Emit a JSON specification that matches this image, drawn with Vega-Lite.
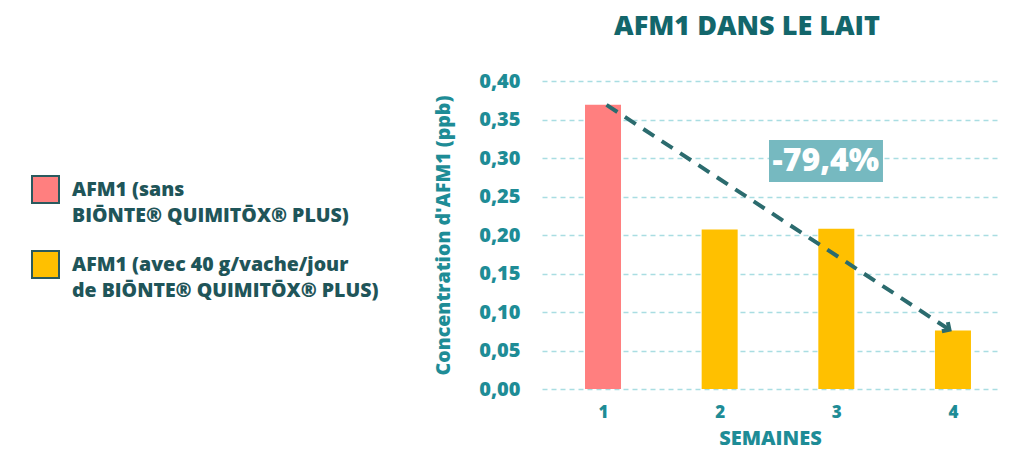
{
  "$schema": "https://vega.github.io/schema/vega-lite/v6.json",
  "width": 456,
  "height": 308,
  "autosize": "none",
  "padding": {"left": 542, "top": 81, "right": 26, "bottom": 80},
  "background": "white",
  "config": {"view": {"stroke": null}, "font": "Open Sans", "style": {"guide-label": {"lineHeight": 26}}},
  "title": {"text": "AFM1 DANS LE LAIT", "fontSize": 27, "fontWeight": 800, "color": "#13666b", "font": "Open Sans", "anchor": "middle", "dx": -23, "offset": 30},
  "datasets": {
    "bars": [
      {"semaine": 1, "valeur": 0.369, "serie": "AFM1 (sans|BIŌNTE® QUIMITŌX® PLUS)"},
      {"semaine": 2, "valeur": 0.207, "serie": "AFM1 (avec 40 g/vache/jour|de BIŌNTE® QUIMITŌX® PLUS)"},
      {"semaine": 3, "valeur": 0.208, "serie": "AFM1 (avec 40 g/vache/jour|de BIŌNTE® QUIMITŌX® PLUS)"},
      {"semaine": 4, "valeur": 0.076, "serie": "AFM1 (avec 40 g/vache/jour|de BIŌNTE® QUIMITŌX® PLUS)"}
    ],
    "fleche": [
      {"semaine": 1.03, "valeur": 0.369},
      {"semaine": 3.97, "valeur": 0.077}
    ],
    "pointe": [
      {"semaine": 3.97, "valeur": 0.077}
    ],
    "boite": [
      {"x1": 2.423, "x2": 3.40, "y1": 0.2688, "y2": 0.3234, "cx": 2.91, "cy": 0.296, "label": "-79,4%"}
    ]
  },
  "layer": [
    {
      "data": {"name": "bars"},
      "mark": {"type": "bar", "width": 36},
      "encoding": {
        "x": {"field": "semaine", "type": "quantitative",
          "scale": {"domain": [0.477, 4.386], "nice": false, "zero": false, "padding": 0},
          "axis": {"values": [1, 2, 3, 4], "format": "d", "grid": false, "ticks": false, "domain": false, "tickCount": 10,
            "title": "SEMAINES", "titleFont": "Open Sans", "titleFontSize": 20, "titleFontWeight": 800, "titleColor": "#1e8c96", "titlePadding": 8,
            "labelFont": "Open Sans", "labelFontSize": 17, "labelFontWeight": 800, "labelColor": "#1e8c96", "labelPadding": 15}},
        "y": {"field": "valeur", "type": "quantitative",
          "scale": {"domain": [0, 0.4], "nice": false},
          "axis": {"values": [0, 0.05, 0.1, 0.15, 0.2, 0.25, 0.3, 0.35, 0.4], "tickCount": 20,
            "labelExpr": "replace(format(datum.value, '.2f'), '.', ',')", "labelOverlap": false,
            "grid": true, "gridColor": "#a9dde2", "gridDash": [5, 4], "gridWidth": 1.5,
            "ticks": false, "domain": false,
            "labelFont": "Open Sans", "labelFontSize": 20, "labelFontWeight": 800, "labelColor": "#1e8c96", "labelPadding": 22,
            "title": "Concentration d'AFM1 (ppb)", "titleFont": "Open Sans", "titleFontSize": 19.5, "titleFontWeight": 800, "titleColor": "#1e8c96", "titlePadding": 25}},
        "color": {"field": "serie", "type": "nominal",
          "scale": {"domain": ["AFM1 (sans|BIŌNTE® QUIMITŌX® PLUS)", "AFM1 (avec 40 g/vache/jour|de BIŌNTE® QUIMITŌX® PLUS)"], "range": ["#ff7f7f", "#ffc000"]},
          "legend": {"orient": "none", "legendX": -511, "legendY": 94, "title": null,
            "symbolType": "square", "symbolSize": 729, "symbolStrokeColor": "#2a5a5e", "symbolStrokeWidth": 2, "symbolOpacity": 1,
            "labelExpr": "split(datum.label, '|')", "labelFont": "Open Sans", "labelFontSize": 19.5, "labelFontWeight": 800, "labelColor": "#1f5559",
            "labelOffset": 12, "labelLimit": 400, "rowPadding": 22, "labelBaseline": "middle"}}
      }
    },
    {
      "data": {"name": "fleche"},
      "mark": {"type": "line", "color": "#2b6b6e", "strokeWidth": 4, "strokeDash": [13, 9]},
      "encoding": {
        "x": {"field": "semaine", "type": "quantitative"},
        "y": {"field": "valeur", "type": "quantitative"}
      }
    },
    {
      "data": {"name": "pointe"},
      "mark": {"type": "point", "shape": "M -1 -1 L 0 0 L -1 1", "filled": false, "color": "#2b6b6e", "strokeWidth": 4, "size": 120, "angle": 33, "opacity": 1},
      "encoding": {
        "x": {"field": "semaine", "type": "quantitative"},
        "y": {"field": "valeur", "type": "quantitative"}
      }
    },
    {
      "data": {"name": "boite"},
      "mark": {"type": "rect", "color": "#76b9c0"},
      "encoding": {
        "x": {"field": "x1", "type": "quantitative"},
        "x2": {"field": "x2"},
        "y": {"field": "y1", "type": "quantitative"},
        "y2": {"field": "y2"}
      }
    },
    {
      "data": {"name": "boite"},
      "mark": {"type": "text", "color": "white", "font": "Open Sans", "fontSize": 32, "fontWeight": 800, "align": "center", "baseline": "middle"},
      "encoding": {
        "x": {"field": "cx", "type": "quantitative"},
        "y": {"field": "cy", "type": "quantitative"},
        "text": {"field": "label"}
      }
    }
  ]
}
